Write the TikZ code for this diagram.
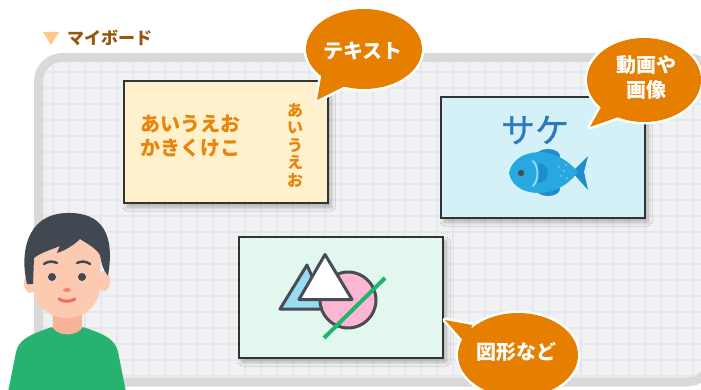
\documentclass[tikz,border=0pt]{standalone}
\usepackage{fontspec}
\newfontfamily\jp{Noto Sans CJK JP}
\newfontfamily\jpsake[FakeBold=0.8]{Noto Sans CJK JP}
\usetikzlibrary{shadows.blur}

\definecolor{board}{HTML}{F1F1F1}
\definecolor{boardedge}{HTML}{D9D9D9}
\definecolor{gridc}{HTML}{E3E8F0}
\definecolor{bubble}{HTML}{E67E00}
\definecolor{ink}{HTML}{474C55}
\definecolor{cream}{HTML}{FFF1CC}
\definecolor{textor}{HTML}{E8850C}
\definecolor{aqua}{HTML}{D4F1F8}
\definecolor{mint}{HTML}{E2F8EE}
\definecolor{titlebrown}{HTML}{97560E}
\definecolor{tri}{HTML}{FFC68A}
\definecolor{fish}{HTML}{29A8E0}
\definecolor{fishdark}{HTML}{1E8DC9}
\definecolor{fishlight}{HTML}{8AD8F5}
\definecolor{sakeblue}{HTML}{2F78BF}
\definecolor{skyfill}{HTML}{98DCF3}
\definecolor{pinkfill}{HTML}{FDB7D3}
\definecolor{lineg}{HTML}{22B46B}
\definecolor{skin}{HTML}{FCCAB0}
\definecolor{neck}{HTML}{F8B398}
\definecolor{shirt}{HTML}{27B36F}
\definecolor{hair}{HTML}{424851}
\definecolor{mouth}{HTML}{F36C5A}

\tikzset{
  card/.style={fill=#1, draw=black!80, line width=1.3pt,
    blur shadow={shadow xshift=3pt, shadow yshift=-4pt, shadow opacity=28, shadow blur steps=8, shadow blur radius=4pt}},
  rim/.style={white, line width=5pt, line join=round},
  bubbletext/.style={inner sep=0pt, text=white, align=center,
    font=\jp\bfseries\fontsize{20}{25}\selectfont},
  icon/.style={draw=ink, line width=3pt, line join=round},
}

\begin{document}
\begin{tikzpicture}[x=1pt, y=-1pt]
  \useasboundingbox (0,0) rectangle (701,390);

  % 見出し
  \fill[tri] (43,32) -- (59,32) -- (51,45) -- cycle;
  \node[anchor=west, inner sep=0pt, text=titlebrown, font=\jp\bfseries\fontsize{17}{17}\selectfont] (title) at (67,38) {マイボード};

  % ボード
  \draw[fill=board, draw=boardedge, line width=9pt, rounded corners=24pt] (38.5,57.5) rectangle (711,382);
  \begin{scope}
    \clip[rounded corners=18pt] (43,62) rectangle (706.5,377.5);
    \foreach \x in {53,69,...,701} \draw[gridc, line width=1.2pt] (\x,62) -- (\x,378);
    \foreach \y in {72,88,...,377} \draw[gridc, line width=1.2pt] (43,\y) -- (707,\y);
  \end{scope}

  % テキストのカード
  \draw[card=cream] (124,81) rectangle (328,203);
  \node[anchor=west, inner sep=0pt, align=left, text=textor, font=\jp\bfseries\fontsize{20}{23.5}\selectfont] (yoko) at (140,136) {あいうえお\\かきくけこ};
  \node[inner sep=0pt, align=center, text=textor, font=\jp\bfseries\fontsize{16}{17.5}\selectfont] (tate) at (295,145) {あ\\い\\う\\え\\お};

  % 画像のカード
  \draw[card=aqua] (441,97) rectangle (645,218);
  \node[inner sep=0pt, text=sakeblue, font=\jpsake\fontsize{34}{34}\selectfont] (sake) at (535,130) {サケ};

  % 魚
  \fill[fishdark] (548,156) ellipse (12 and 7);
  \fill[fishdark] (548,189) ellipse (12 and 7);
  \fill[fishdark] (572,172) -- (588,156) -- (584,172) -- (588,190) -- cycle;
  \fill[fish] (509,173) .. controls (513,154) and (535,150) .. (548,153)
    .. controls (562,156) and (572,165) .. (578,172)
    .. controls (572,180) and (562,189) .. (548,192)
    .. controls (535,195) and (513,192) .. (509,173) -- cycle;
  \fill[fishdark] (538,183) arc (90:-90:10) -- cycle;
  \draw[fishlight, line width=2pt, line cap=round] (533,161) .. controls (539,167) and (539,180) .. (533,186);
  \fill[ink] (521,173) circle (3.2);
  \foreach \p in {(559,167),(564,171),(561,176),(567,178),(566,165)} \fill[fishlight] \p circle (0.9);

  % 図形のカード
  \draw[card=mint] (239,237) rectangle (443,358);
  \draw[icon, fill=skyfill] (280,309) -- (307,265) -- (326,309) -- cycle;
  \draw[icon, fill=pinkfill] (348,300) circle (28);
  \draw[icon, fill=white] (299,299.5) -- (325,254.5) -- (352,299.5) -- cycle;
  \draw[lineg, line width=4pt] (324,338) -- (385,278);

  % 吹き出し(テキスト)
  \draw[rim] (364,49) ellipse (58 and 40);
  \draw[rim] (322,72) -- (317,100) -- (345,86) -- cycle;
  \fill[bubble] (364,49) ellipse (58 and 40);
  \fill[bubble] (322,72) -- (317,100) -- (345,86) -- cycle;
  \node[bubbletext] (b1) at (363,51) {テキスト};

  % 吹き出し(動画や画像)
  \draw[rim] (644,80) ellipse (57 and 42);
  \draw[rim] (605,100) -- (590,127) -- (627,114) -- cycle;
  \fill[bubble] (644,80) ellipse (57 and 42);
  \fill[bubble] (605,100) -- (590,127) -- (627,114) -- cycle;
  \node[bubbletext] (b2) at (646,77) {動画や\\画像};

  % 吹き出し(図形など)
  \draw[rim] (518,355) ellipse (60 and 42);
  \draw[rim] (472,325) -- (445,320) -- (468,346) -- cycle;
  \fill[bubble] (518,355) ellipse (60 and 42);
  \fill[bubble] (472,325) -- (445,320) -- (468,346) -- cycle;
  \node[bubbletext] (b3) at (516,352) {図形など};

  % 人物
  \fill[neck] (53,300) rectangle (82,336);
  \fill[shirt] (8,392) -- (16,352) .. controls (19,340) and (28,335) .. (52,327)
    .. controls (58,337) and (77,337) .. (83,327)
    .. controls (107,335) and (115,340) .. (118,352) -- (126,392) -- cycle;
  \fill[skin] (30,283) ellipse (6 and 10);
  \fill[skin] (104,281) ellipse (6 and 10);
  \fill[skin] (33,228) -- (33,285) .. controls (33,306) and (50,318) .. (67,318)
    .. controls (84,318) and (100,306) .. (100,285) -- (100,228) -- cycle;
  \fill[hair] (27,284) .. controls (20,255) and (25,214) .. (67,213)
    .. controls (103,212) and (115,235) .. (108,276)
    .. controls (103,270) and (101,262) .. (100,255)
    .. controls (96,248) and (86,243) .. (80,239)
    .. controls (74,245) and (66,250) .. (57,253)
    .. controls (58,250) and (59,248) .. (60,246)
    .. controls (50,250) and (40,253) .. (34,258) -- (33,284) -- cycle;
  \fill[hair] (52,277) circle (4);
  \fill[hair] (82,277) circle (4);
  \draw[hair, line width=2.5pt, line cap=round] (44,264) .. controls (48,261) and (53,261) .. (57,263);
  \draw[hair, line width=2.5pt, line cap=round] (77,263) .. controls (81,261) and (86,261) .. (90,264);
  \fill[mouth!85] (67,290) ellipse (4 and 2);
  \draw[mouth, line width=3pt, line cap=round] (59,299) .. controls (63,302) and (71,302) .. (75,299);
\end{tikzpicture}
\end{document}
